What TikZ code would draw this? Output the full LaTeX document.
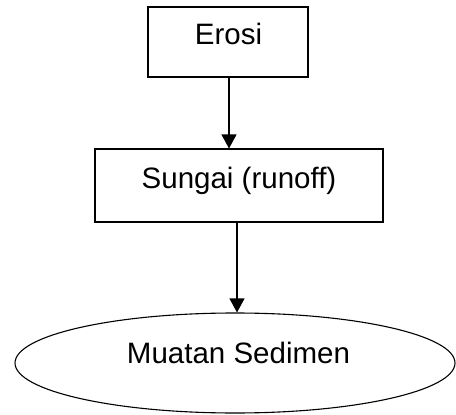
\documentclass[tikz,border=0pt]{standalone}
\usepackage{fontspec}
\setmainfont{Liberation Sans}
\usetikzlibrary{shapes.geometric,arrows.meta}
\begin{document}
\begin{tikzpicture}[x=1pt,y=1pt,
  line width=1.1pt,
  box/.style={draw, rectangle, inner sep=0pt},
  oval/.style={draw, ellipse, inner sep=0pt, minimum width=440pt, minimum height=100pt},
  lbl/.style={anchor=base, inner sep=0pt, font=\fontsize{29.5}{35}\selectfont},
  flow/.style={-{Triangle[width=15pt,length=14pt]}}]
  % canvas
  \fill[white] (0,0) rectangle (456,-415);
  \useasboundingbox (0,0) rectangle (456,-415);

  % boxes
  \node[box, minimum width=160pt, minimum height=70pt] (erosi) at (228,-42) {};
  \node[lbl] (erosiT) at (228.5,-45) {Erosi};

  \node[box, minimum width=288pt, minimum height=73pt] (sungai) at (239,-185.5) {};
  \node[lbl] (sungaiT) at (239,-188) {Sungai (runoff)};

  \node[oval] (muatan) at (235,-363) {};
  \node[lbl] (muatanT) at (238.5,-363) {Muatan Sedimen};

  % connectors
  \coordinate (a1) at ([xshift=1pt]erosi.south);
  \draw[flow] (a1) -- (a1 |- sungai.north);
  \coordinate (a2) at ([xshift=-2pt]sungai.south);
  \draw[flow] (a2) -- (a2 |- muatan.north);
\end{tikzpicture}
\end{document}
